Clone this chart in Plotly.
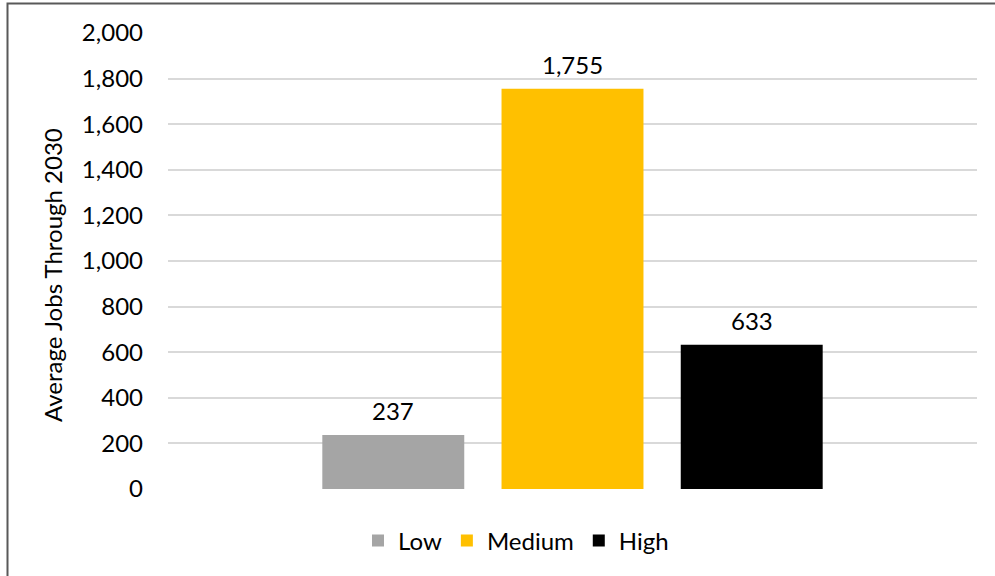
import plotly.graph_objects as go

# Scenario data
scenarios = ["Low", "Medium", "High"]
avg_jobs = [237, 1755, 633]
colors = ["#A5A5A5", "#FFC000", "#000000"]

y_ticks = list(range(0, 2001, 200))
y_title = "Average Jobs Through 2030"

W, H = 995, 576
M_L, M_R, M_T, M_B = 168, 18, 33, 87
plot_w = W - M_L - M_R
plot_h = H - M_T - M_B

FONT = "Lato"
FS = 24

fig = go.Figure()
for name, val, col in zip(scenarios, avg_jobs, colors):
    fig.add_trace(go.Bar(
        x=[name], y=[val], name=name,
        marker=dict(color=col, line=dict(width=0)),
        hoverinfo="y",
    ))
    fig.add_annotation(
        x=name, y=val, text=f"{val:,}", showarrow=False,
        yanchor="middle", yshift=24,
        font=dict(family=FONT, size=FS, color="#000000"),
    )


def px_to_paper_x(px):
    return (px - M_L) / plot_w


def px_to_paper_y(py):
    return (H - M_B - py) / plot_h


# vertical axis title, centred on the chart body
fig.add_annotation(
    xref="paper", yref="paper",
    x=px_to_paper_x(52), y=px_to_paper_y(275),
    text=y_title, textangle=-90, showarrow=False,
    xanchor="center", yanchor="middle",
    font=dict(family=FONT, size=FS, color="#000000"),
)

# outer chart border
fig.add_shape(
    type="rect", xref="paper", yref="paper",
    x0=px_to_paper_x(7.5), x1=px_to_paper_x(1005),
    y0=px_to_paper_y(590), y1=px_to_paper_y(3.5),
    line=dict(color="#595959", width=2), fillcolor="rgba(0,0,0,0)",
    layer="above",
)

fig.update_layout(
    width=W, height=H,
    margin=dict(l=M_L, r=M_R, t=M_T, b=M_B, autoexpand=False),
    paper_bgcolor="white", plot_bgcolor="white",
    barmode="overlay",
    bargap=0.208,
    font=dict(family=FONT, size=FS, color="#000000"),
    showlegend=True,
    legend=dict(
        orientation="h", x=px_to_paper_x(516), xanchor="center",
        y=px_to_paper_y(541), yanchor="middle",
        font=dict(family=FONT, size=FS, color="#000000"),
        itemclick=False, itemdoubleclick=False,
        bgcolor="rgba(0,0,0,0)",
    ),
    xaxis=dict(
        type="category", categoryorder="array", categoryarray=scenarios,
        range=[-1.257, 3.257],
        showticklabels=False, showgrid=False, zeroline=False,
        showline=False, ticks="", fixedrange=True,
    ),
    yaxis=dict(
        range=[0, 2000], tickvals=y_ticks, tickformat=",",
        showgrid=True, gridcolor="#D9D9D9", gridwidth=1.5,
        zeroline=False, showline=False, ticks="",
        ticklabelstandoff=24,
        tickfont=dict(family=FONT, size=FS, color="#000000"),
        fixedrange=True,
    ),
)

fig.write_html("out.html")
